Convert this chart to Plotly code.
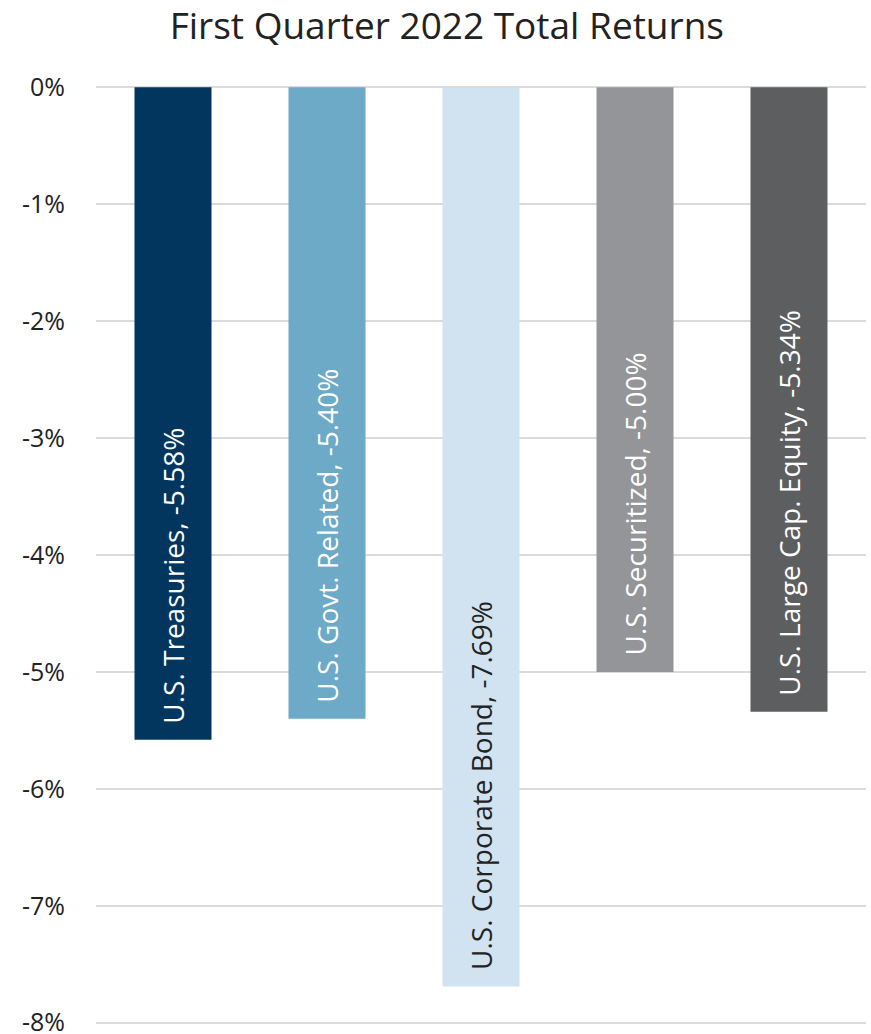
import plotly.graph_objects as go

# Asset classes and their Q1 2022 total returns (%)
categories = ["U.S. Treasuries", "U.S. Govt. Related", "U.S. Corporate Bond",
              "U.S. Securitized", "U.S. Large Cap. Equity"]
returns = [-5.58, -5.40, -7.69, -5.00, -5.34]
bar_colors = ["#02365E", "#6DAAC8", "#D1E3F1", "#939598", "#5D5E60"]
text_colors = ["#FFFFFF", "#FFFFFF", "#222222", "#FFFFFF", "#FFFFFF"]
tick_values = [0, -1, -2, -3, -4, -5, -6, -7, -8]
tick_labels = ["0%", "-1%", "-2%", "-3%", "-4%", "-5%", "-6%", "-7%", "-8%"]

fig = go.Figure(go.Bar(
    x=categories,
    y=returns,
    marker=dict(color=bar_colors, line=dict(width=0)),
    hoverinfo="skip",
))

# Vertical value labels sitting just above the end of each bar
for cat, val, col in zip(categories, returns, text_colors):
    fig.add_annotation(
        x=cat, y=val, xref="x", yref="y",
        text=f"{cat}, {val:.2f}%",
        textangle=-90, showarrow=False,
        xanchor="center", yanchor="bottom", yshift=14,
        font=dict(family="Open Sans", size=28, color=col),
    )

fig.update_layout(
    width=871, height=1034,
    margin=dict(l=96, r=5, t=85, b=9, autoexpand=False),
    paper_bgcolor="white", plot_bgcolor="white",
    bargap=0.5,
    showlegend=False,
    title=dict(text="First Quarter 2022 Total Returns", x=0.513, xanchor="center",
               y=0.975, yanchor="middle",
               font=dict(family="Open Sans", size=37, color="#222222")),
    xaxis=dict(showticklabels=False, showgrid=False, zeroline=False, showline=False,
               automargin=False),
    yaxis=dict(range=[-8.02, 0.02], tickvals=tick_values, ticktext=tick_labels,
               showgrid=True, gridcolor="#DCDADC", gridwidth=2,
               zeroline=False, showline=False, ticks="", automargin=False,
               ticklabelstandoff=30, ticklabeloverflow="allow",
               tickfont=dict(family="Open Sans", size=25, color="#222222")),
)

fig.write_html("out.html")
